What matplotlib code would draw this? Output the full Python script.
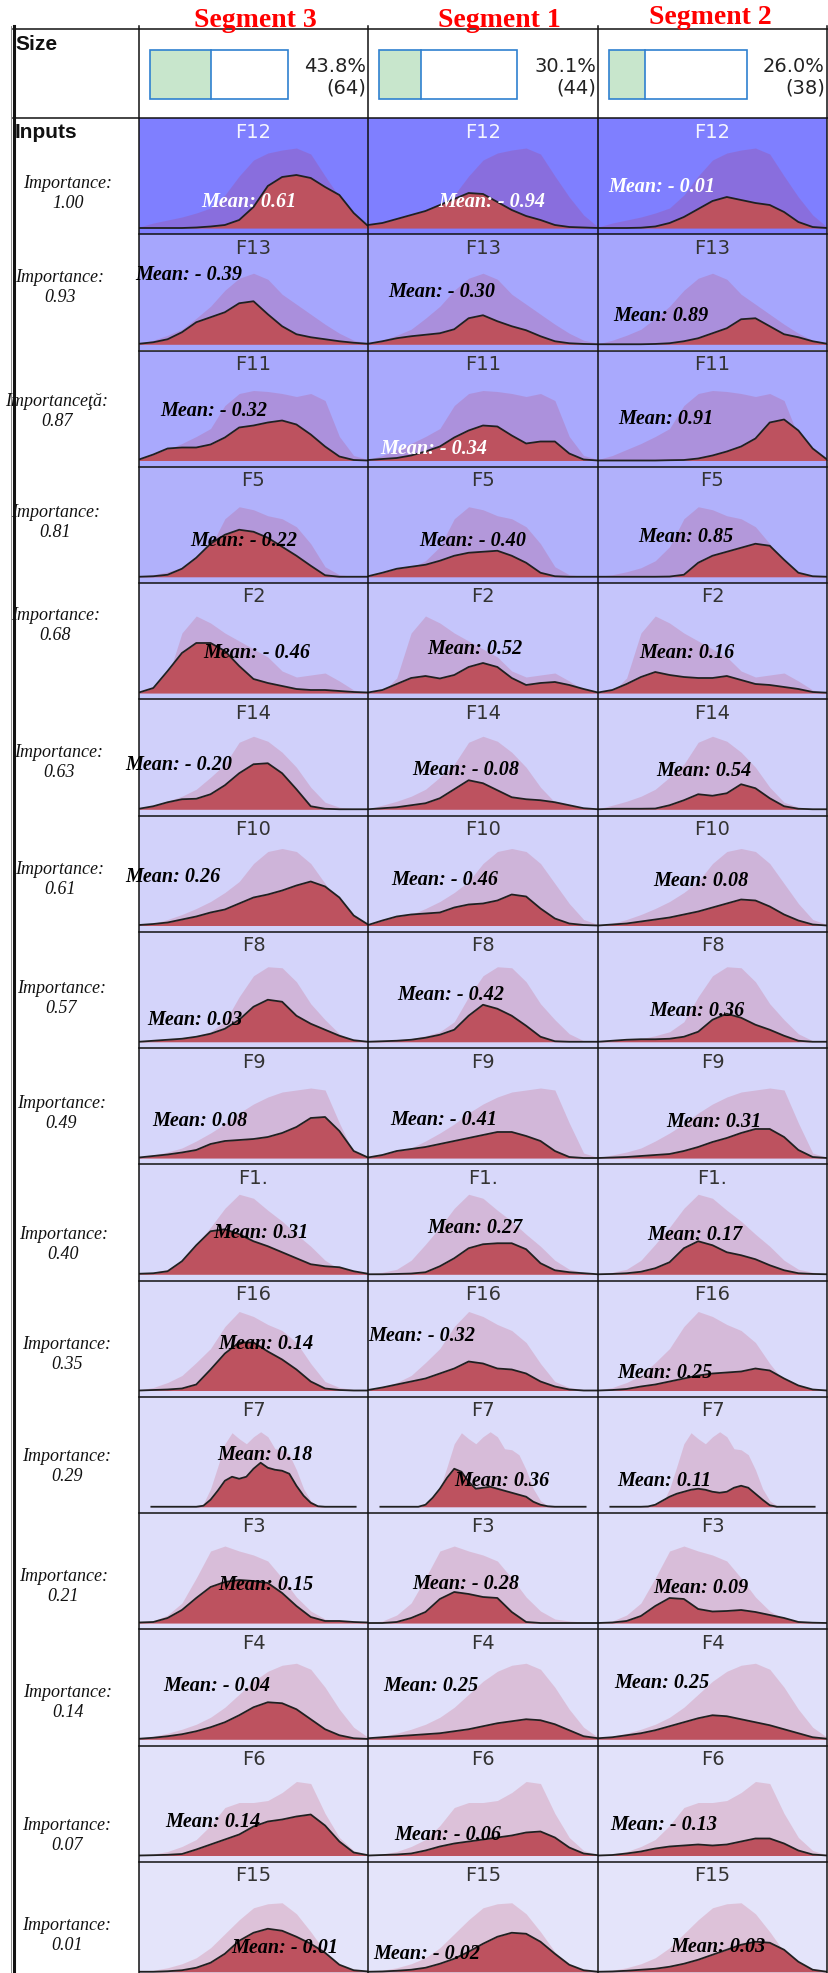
import numpy as np
import matplotlib
matplotlib.use("Agg")
import matplotlib.pyplot as plt

# ---------------- data ----------------
SEGMENTS = ["Segment 3", "Segment 1", "Segment 2"]
SIZE_PCT = [43.8, 30.1, 26.0]
SIZE_N = [64, 44, 38]

FEATURES = ["F12", "F13", "F11", "F5", "F2", "F14", "F10", "F8", "F9", "F1.",
            "F16", "F7", "F3", "F4", "F6", "F15"]
IMPORTANCE = [1.00, 0.93, 0.87, 0.81, 0.68, 0.63, 0.61, 0.57, 0.49, 0.40,
              0.35, 0.29, 0.21, 0.14, 0.07, 0.01]
IMPORTANCE_WORD = ["Importance:", "Importance:", "Importanceţă:"] + ["Importance:"] * 13

MEANS_SEG3 = [0.61, -0.39, -0.32, -0.22, -0.46, -0.20, 0.26, 0.03, 0.08, 0.31,
              0.14, 0.18, 0.15, -0.04, 0.14, -0.01]
MEANS_SEG1 = [-0.94, -0.30, -0.34, -0.40, 0.52, -0.08, -0.46, -0.42, -0.41, 0.27,
              -0.32, 0.36, -0.28, 0.25, -0.06, -0.02]
MEANS_SEG2 = [-0.01, 0.89, 0.91, 0.85, 0.16, 0.54, 0.08, 0.36, 0.31, 0.17,
              0.25, 0.11, 0.09, 0.25, -0.13, 0.03]

# densities (overall population and per segment), evenly spaced over each feature's range
DENS_ALL = {
    "F12": [1, 5, 8, 11, 15, 20, 33, 52, 68, 75, 78, 80, 74, 52, 31, 13, 1],
    "F13": [0.5, 4, 9, 15, 26, 38, 54, 66, 71, 65, 50, 40, 30, 20, 11, 4, 1],
    "F11": [1, 5, 11, 17, 24, 32, 55, 67, 70, 69, 67, 64, 67, 60, 24, 5, 1],
    "F5": [0.5, 2, 5, 9, 16, 30, 58, 70, 67, 61, 58, 50, 33, 10, 2, 0.5, 0],
    "F2": [0, 1, 15, 60, 77, 70, 60, 52, 44, 36, 22, 16, 18, 20, 12, 3, 0.5],
    "F14": [0.5, 4, 8, 13, 20, 32, 45, 67, 73, 68, 57, 42, 22, 7, 2, 0.5, 0],
    "F10": [0.5, 2, 6, 11, 17, 24, 33, 44, 62, 74, 77, 74, 62, 42, 22, 6, 1],
    "F8": [0, 1, 2, 3, 6, 10, 20, 45, 66, 75, 74, 60, 38, 22, 8, 1, 0],
    "F9": [0.5, 3, 6, 10, 17, 25, 34, 45, 54, 61, 66, 68, 70, 68, 35, 5, 0.5],
    "F1.": [0.5, 2, 5, 14, 30, 47, 66, 80, 76, 64, 53, 40, 28, 14, 5, 2, 0.5],
    "F16": [0.5, 3, 8, 15, 28, 42, 64, 79, 74, 66, 60, 48, 27, 9, 3, 1, 0],
    "F7": [0] * 9 + [3, 18, 40, 63, 74, 68, 63, 70, 75, 70, 58, 57, 52, 37, 18, 6, 1] + [0] * 7,
    "F3": [0.5, 2, 8, 20, 45, 72, 77, 72, 68, 62, 45, 26, 12, 4, 2, 1, 0.5],
    "F4": [1, 3, 6, 10, 15, 22, 32, 45, 58, 68, 74, 76, 70, 52, 30, 12, 2],
    "F6": [0.5, 1.5, 4, 9, 16, 30, 48, 53, 53, 55, 63, 74, 72, 42, 18, 5, 0.5],
    "F15": [0.5, 1.5, 4, 8, 14, 24, 38, 52, 64, 68, 69, 58, 40, 20, 6, 1, 0.3],
}
DENS_SEG3 = {
    "F12": [0, 0, 0, 0, 0.5, 1.5, 3, 8, 21, 42, 51, 53, 50, 41, 33, 15, 2],
    "F13": [0.5, 2, 5, 12, 22, 27, 32, 41, 43, 30, 18, 10, 7, 5, 3, 1.5, 0.5],
    "F11": [1, 6, 12, 13, 13, 16, 23, 33, 35, 38, 40, 36, 26, 14, 4, 0.5, 0],
    "F5": [0, 0.5, 2, 8, 19, 33, 42, 47, 45, 39, 30, 21, 11, 1.5, 0, 0, 0],
    "F2": [0.5, 5, 22, 40, 50, 50, 42, 27, 14, 10, 7, 4, 3, 3, 2, 1, 0.5],
    "F14": [0.5, 3, 7, 10, 10.5, 15, 24, 36, 45, 46, 36, 20, 3, 0.5, 0, 0, 0],
    "F10": [0.5, 1.5, 3, 6, 9, 13, 16, 22, 28, 31, 35, 40, 44, 39, 28, 10, 1],
    "F8": [0, 1, 2, 3, 5, 8, 13, 22, 35, 42, 40, 26, 18, 12, 6, 1.5, 0],
    "F9": [0.5, 2, 3.5, 5.5, 8, 14, 17, 18, 19, 21, 25, 31, 40, 41, 27, 7, 0.5],
    "F1.": [0.5, 1, 3, 13, 29, 43, 45, 40, 33, 28, 22, 16, 10, 8, 7, 3, 0.5],
    "F16": [0, 0.5, 1, 2, 6, 21, 37, 48, 48, 39, 31, 21, 9, 2, 0.5, 0, 0],
    "F7": [0] * 9 + [1, 7, 16, 26, 30, 28, 30, 38, 44, 39, 37, 36, 33, 21, 11, 4, 0.5] + [0] * 7,
    "F3": [0.5, 1, 5, 13, 25, 36, 41, 43, 42, 40, 30, 17, 6, 2, 2, 1, 0.5],
    "F4": [0.5, 1.5, 3, 5, 8, 12, 17, 24, 32, 37, 36, 30, 20, 10, 4, 1, 0.3],
    "F6": [0, 0.3, 0.7, 1.5, 6, 11, 16, 21, 29, 34, 36, 39, 41, 30, 14, 3, 0.3],
    "F15": [0, 0, 0.5, 1.5, 4, 9, 18, 31, 39, 43, 41, 35, 28, 19, 7, 1.5, 0.3],
}
DENS_SEG1 = {
    "F12": [3, 5, 9, 13, 17, 23, 29, 35, 34, 26, 18, 12, 8, 3, 1, 0.5, 0],
    "F13": [0.5, 3, 6, 8, 9.5, 11, 15, 26, 29, 23, 18, 14, 8, 3, 1, 0.3, 0],
    "F11": [0.5, 1.5, 2.5, 5, 9, 14, 23, 30, 35, 34, 25, 17, 19, 19, 7, 1, 0],
    "F5": [0.5, 4, 8, 10, 12, 16, 21, 24, 25, 26, 21, 14, 4, 0.5, 0, 0, 0],
    "F2": [0.5, 3, 9, 15, 17, 14.5, 18, 26, 30, 26, 15, 8, 10, 11, 8, 4, 0.5],
    "F14": [0, 1, 2, 4, 6, 11, 20, 29, 26, 19, 12, 10, 9, 7, 4, 1, 0],
    "F10": [0.5, 5, 9, 11, 12, 13, 18, 21, 22, 25, 31, 29, 17, 7, 2, 0.5, 0],
    "F8": [0, 0.5, 1, 2, 4, 7, 12, 26, 37, 33, 26, 16, 5, 0.5, 0, 0, 0],
    "F9": [0.5, 3, 7, 9, 11, 14, 17, 20, 23, 26, 26, 22, 17, 7, 1, 0, 0],
    "F1.": [0, 0, 0.3, 0.7, 2, 8, 16, 26, 30, 31, 31, 25, 11, 4, 2, 1, 0],
    "F16": [0.5, 3, 6, 9, 12, 17, 22, 29, 27, 22, 21, 17, 9, 4, 1, 0, 0],
    "F7": [0] * 8 + [2, 9, 18, 29, 38, 35, 25, 18, 19, 20, 18, 16, 14, 12, 10, 5, 2, 0.5] + [0] * 7,
    "F3": [0, 0, 1, 5, 11, 24, 31, 29, 26, 25, 11, 1, 0, 0, 0, 0, 0],
    "F4": [1, 2, 3, 4, 5, 6, 8, 10, 13, 16, 18, 20, 19, 15, 9, 3, 1],
    "F6": [0, 0.5, 1, 2, 5, 9, 12, 14, 16, 18, 20, 23, 24, 18, 8, 2, 0.3],
    "F15": [0, 0.3, 1, 2, 4, 8, 13, 20, 28, 35, 39, 38, 30, 18, 7, 1.5, 0],
}
DENS_SEG2 = {
    "F12": [0, 0, 0, 0.3, 1.5, 5, 11, 19, 27, 31, 28, 25, 23, 16, 6, 1, 0],
    "F13": [0, 0, 0, 0, 0.3, 1, 3, 6, 11, 16, 25, 26, 18, 10, 7, 3, 0.5],
    "F11": [0, 0, 0, 0, 0, 0.3, 0.5, 2, 5, 9, 14, 22, 38, 41, 30, 12, 1],
    "F5": [0, 0, 0, 0, 0, 0.2, 2, 14, 21, 25, 29, 33, 31, 17, 4, 0.5, 0],
    "F2": [0.5, 3, 9, 16, 21, 18, 16, 15, 15, 17, 13, 9, 8, 6, 4, 1, 0.3],
    "F14": [0, 0.5, 0.5, 0.5, 0.7, 4, 9, 15, 13.5, 16, 25, 21, 11, 3, 0.5, 0, 0],
    "F10": [0, 1, 2, 4, 6, 8, 11, 14, 18, 22, 26, 25, 19, 11, 5, 1, 0],
    "F8": [0, 1, 2, 2.5, 2.5, 3, 5, 10, 22, 28, 24, 17, 12, 6, 1, 0, 0],
    "F9": [0, 0.5, 1, 2, 3, 4, 7, 11, 16, 20, 25, 29, 29, 21, 8, 1, 0],
    "F1.": [0, 0.3, 1, 2.5, 6, 12, 26, 33, 29, 22, 19, 15, 9, 4, 1, 0.3, 0],
    "F16": [0, 0.5, 1.5, 4, 6, 9, 12, 15, 17, 18, 19, 22, 20, 12, 5, 1, 0],
    "F7": [0] * 7 + [0.3, 2, 6, 10, 13, 15, 17, 18, 17, 15, 14, 15, 19, 21, 19, 13, 7, 1.5] + [0] * 8,
    "F3": [0, 0.5, 2, 7, 17, 25, 24, 14, 11.5, 12, 13, 11, 8, 5, 1, 0.3, 0],
    "F4": [1, 2, 4, 6, 9, 13, 17, 21, 24, 23, 20, 17, 14, 10, 6, 2, 0.5],
    "F6": [0, 0.5, 2, 4, 7, 9, 10, 11, 10, 11, 14, 17, 17, 12, 5, 1, 0],
    "F15": [0, 0.3, 1, 2, 3, 5, 8, 12, 17, 22, 27, 30, 29, 22, 10, 2, 0],
}
# range of the plotted feature axis inside the cell (fraction of cell width)
SUPPORT = {"F7": (0.05, 0.95)}

# ---------------- layout / style ----------------
W, H = 829, 1973
COL_X = [139, 368, 598, 827]
ROW0, ROW_H, BASE = 118.0, 116.25, 110.0
ROW_BG = ["#7f7fff", "#a6a6fd", "#a9a9fd", "#b1b1fb", "#c5c5fb", "#d0d0fa",
          "#d2d2fa", "#d4d4fa", "#d6d6fa", "#d8d8fa", "#dadafa", "#dcdcfa",
          "#dedefa", "#e0e0fa", "#e2e2fa", "#e4e4fa"]
WHITE_TEXT = {(0, 0), (0, 1), (0, 2), (2, 1)}
IMP_POS = [(68, 75), (60, 53.7), (57, 61.5), (55.5, 55.8), (55.5, 43), (59, 62.8),
           (60, 64), (61.3, 66.4), (61.4, 66), (63.5, 80), (66.7, 74.3), (67, 69.6),
           (63.5, 73.3), (68, 73), (66.7, 90.5), (66.7, 73.8)]
MEAN_POS = [
    [(62.7, 84), (70, 84), (10, 69)],
    [(-4.2, 40.7), (20.6, 57.3), (15.3, 81.3)],
    [(21.2, 60.2), (12.6, 98.2), (20.6, 68.2)],
    [(51.3, 73.9), (51.2, 74.3), (40.1, 69.9)],
    [(64.5, 69.7), (59.2, 65.7), (41.7, 69.7)],
    [(-13.7, 66.1), (44.4, 70.4), (58.6, 72.1)],
    [(-13.7, 61.5), (23.2, 64.8), (54.9, 65.8)],
    [(8, 87.9), (29.6, 63.3), (51.2, 78.9)],
    [(13.3, 73.3), (22.2, 72), (68.1, 74.3)],
    [(74, 68.4), (59.2, 63.4), (49.6, 71.1)],
    [(79.3, 63.8), (0.5, 55.5), (19, 92.2)],
    [(77.8, 57.9), (86.7, 84.6), (19, 83.9)],
    [(79.3, 72.3), (44.4, 71), (54.9, 75)],
    [(24.5, 56.5), (15.7, 56.5), (15.9, 54)],
    [(26.7, 76.2), (25.8, 90), (12, 80)],
    [(92, 86.6), (5.6, 92), (72.5, 85.6)],
]
PINK = "#c0203a"
RED = "#bd525f"
EDGE = "#202020"

fig = plt.figure(figsize=(W / 100, H / 100), dpi=100)
fig.patch.set_facecolor("white")


def px_axes(x, y, w, h, z=1):
    return fig.add_axes([x / W, 1 - (y + h) / H, w / W, h / H], zorder=z)


seg_dens = [DENS_SEG3, DENS_SEG1, DENS_SEG2]
seg_means = [MEANS_SEG3, MEANS_SEG1, MEANS_SEG2]

for r, feat in enumerate(FEATURES):
    top = ROW0 + r * ROW_H
    lo, hi = SUPPORT.get(feat, (0.0, 1.0))
    base = np.array(DENS_ALL[feat], float)
    xg = np.linspace(0, 1, len(base))
    for c in range(3):
        ax = px_axes(COL_X[c], top, COL_X[c + 1] - COL_X[c], ROW_H)
        ax.set_facecolor(ROW_BG[r])
        ax.set_xlim(0, 1)
        ax.set_ylim(-(ROW_H - BASE), BASE)
        for s in ax.spines.values():
            s.set_visible(False)
        ax.set_xticks([]); ax.set_yticks([])
        seg = np.array(seg_dens[c][feat], float)
        xs = np.linspace(0, 1, len(seg))
        ax.fill_between(xg, 0, base, color=PINK, alpha=0.17, lw=0)
        ax.fill_between(xs, 0, seg, color=RED, lw=0)
        m = (xs > lo) & (xs < hi)
        lx = np.concatenate([[lo], xs[m], [hi]])
        ly = np.interp(lx, xs, seg)
        ax.plot(lx, ly, color=EDGE, lw=1.3, solid_capstyle="butt")

# overlay in pixel coordinates
ov = fig.add_axes([0, 0, 1, 1], zorder=10)
ov.set_xlim(0, W); ov.set_ylim(H, 0); ov.axis("off")

# grid lines
ov.plot([14, 14], [26, H], color="#111111", lw=2.2)
ov.plot([11.5, 11.5], [26, H], color="#777777", lw=0.6)
for x in COL_X:
    ov.plot([x, x], [26, H], color="#111111", lw=1.1)
ov.plot([13, 828], [29, 29], color="#111111", lw=1.1)
ov.plot([13, 828], [ROW0, ROW0], color="#111111", lw=1.1)
for r in range(1, 16):
    y = ROW0 + r * ROW_H
    ov.plot([COL_X[0], COL_X[-1]], [y, y], color="#111111", lw=1.1)

# headers
hdr_x = [255, 499, 710.5]
hdr_y = [20.5, 20.5, 18]
for i, s in enumerate(SEGMENTS):
    ov.text(hdr_x[i], hdr_y[i], s, color="#ff0000", fontsize=20, fontweight="bold",
            family="Liberation Serif", ha="center", va="center")

ov.text(15, 45, "Size", fontsize=15, fontweight="bold", family="Liberation Sans",
        ha="left", va="center", color="#111111")
ov.text(15, 133, "Inputs", fontsize=15, fontweight="bold", family="Liberation Sans",
        ha="left", va="center", color="#111111")

# size bars
for c in range(3):
    x0 = COL_X[c] + 11.5
    bw, by, bh = 138, 50, 48.5
    frac = SIZE_PCT[c] / 100
    ov.add_patch(plt.Rectangle((x0, by), bw * frac, bh, facecolor="#c8e6cc", edgecolor="none"))
    ov.add_patch(plt.Rectangle((x0, by), bw, bh, facecolor="none", edgecolor="#2f80d0", lw=1.2))
    ov.plot([x0 + bw * frac] * 2, [by, by + bh], color="#2f80d0", lw=1.2)
    xr = COL_X[c + 1] - 2
    ov.text(xr, 66.5, f"{SIZE_PCT[c]:.1f}%", fontsize=14, family="DejaVu Sans",
            ha="right", va="center", color="#222222")
    ov.text(xr, 88.5, f"({SIZE_N[c]})", fontsize=14, family="DejaVu Sans",
            ha="right", va="center", color="#222222")


def fmt_mean(v):
    return f"Mean: - {abs(v):.2f}" if v < 0 else f"Mean: {v:.2f}"


for r, feat in enumerate(FEATURES):
    top = ROW0 + r * ROW_H
    cx, cy = IMP_POS[r]
    ov.text(cx, top + cy - 10, IMPORTANCE_WORD[r], fontsize=13, style="italic",
            family="Liberation Serif", ha="center", va="center", color="#111111")
    ov.text(cx, top + cy + 10, f"{IMPORTANCE[r]:.2f}", fontsize=13, style="italic",
            family="Liberation Serif", ha="center", va="center", color="#111111")
    for c in range(3):
        x0 = COL_X[c]
        xc = (COL_X[c] + COL_X[c + 1]) / 2
        ov.text(xc, top + 14, feat, fontsize=14, family="DejaVu Sans", ha="center",
                va="center", color="#f4f4ff" if r == 0 else "#333333")
        dx, dy = MEAN_POS[r][c]
        col = "white" if (r, c) in WHITE_TEXT else "black"
        ov.text(x0 + dx, top + dy, fmt_mean(seg_means[c][r]), fontsize=14.5,
                fontweight="bold", style="italic", family="Liberation Serif",
                ha="left", va="center", color=col)

fig.savefig("out.png", dpi=100, facecolor="white")
